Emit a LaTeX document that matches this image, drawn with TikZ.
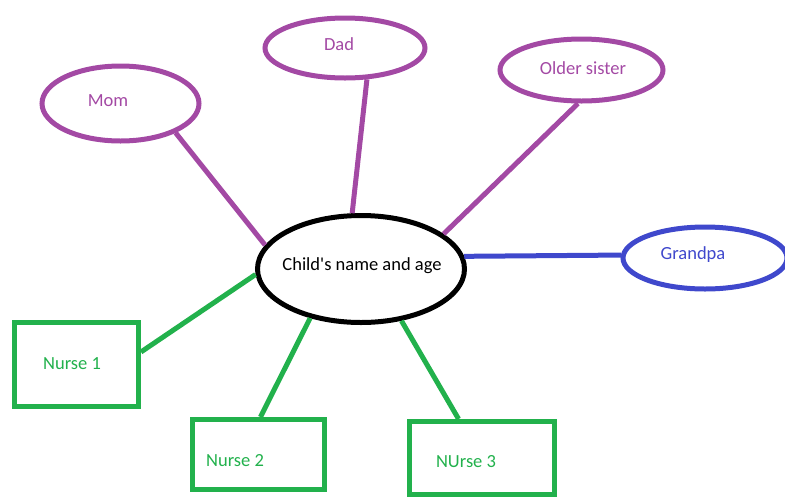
\documentclass[tikz,border=0pt]{standalone}
\usepackage{fontspec}
\setmainfont{Carlito}
\usetikzlibrary{shapes.geometric}
\definecolor{ppurple}{HTML}{A349A4}
\definecolor{pgreen}{HTML}{22B14C}
\definecolor{pblue}{HTML}{3F48CC}
\tikzset{
  oval/.style={ellipse, draw, line width=5pt, inner sep=0pt},
  box/.style={rectangle, draw=pgreen, line width=5pt, inner sep=0pt},
  lbl/.style={font=\fontsize{18.5}{20}\selectfont, inner sep=0pt},
  link/.style={line width=5pt},
}
\begin{document}
\begin{tikzpicture}[x=1pt,y=-1pt]
\useasboundingbox (0,0) rectangle (785,499);
% center
\node[oval, draw=black, minimum width=207pt, minimum height=107pt] (child) at (361,269) {};
\node[lbl, text=black] (childt) at (362,266) {Child\textquotesingle s name and age};
% relatives
\node[oval, draw=ppurple, minimum width=157pt, minimum height=75pt] (mom) at (120.5,103.5) {};
\node[lbl, text=ppurple] (momt) at (108,101) {Mom};
\node[oval, draw=ppurple, minimum width=160pt, minimum height=60pt] (dad) at (345,48) {};
\node[lbl, text=ppurple] (dadt) at (339,44) {Dad};
\node[oval, draw=ppurple, minimum width=163pt, minimum height=62pt] (sister) at (581.5,70) {};
\node[lbl, text=ppurple] (sistert) at (583,68) {Older sister};
\node[oval, draw=pblue, minimum width=164pt, minimum height=62pt] (grandpa) at (705,258) {};
\node[lbl, text=pblue] (grandpat) at (693,255) {Grandpa};
% nurses
\node[box, minimum width=124pt, minimum height=84pt] (n1) at (76.5,364.5) {};
\node[lbl, text=pgreen] (n1t) at (72,364) {Nurse 1};
\node[box, minimum width=132pt, minimum height=70pt] (n2) at (258.5,454.5) {};
\node[lbl, text=pgreen] (n2t) at (235,461) {Nurse 2};
\node[box, minimum width=145pt, minimum height=73pt] (n3) at (482,458) {};
\node[lbl, text=pgreen] (n3t) at (466,462) {NUrse 3};
% connectors
\draw[link, ppurple] (mom.-28) -- (child.166.4);
\draw[link, ppurple] (dad.-55.5) -- (child.99);
\draw[link, ppurple] (sister.-96) -- (child.23.3);
\draw[link, pblue] (child.7.6) -- (grandpa.178);
\draw[link, pgreen] (n1.11.5) -- (child.183.3);
\draw[link, pgreen] (n2.87.6) -- (child.224.4);
\draw[link, pgreen] (n3.121.9) -- (child.-52.9);
\end{tikzpicture}
\end{document}
